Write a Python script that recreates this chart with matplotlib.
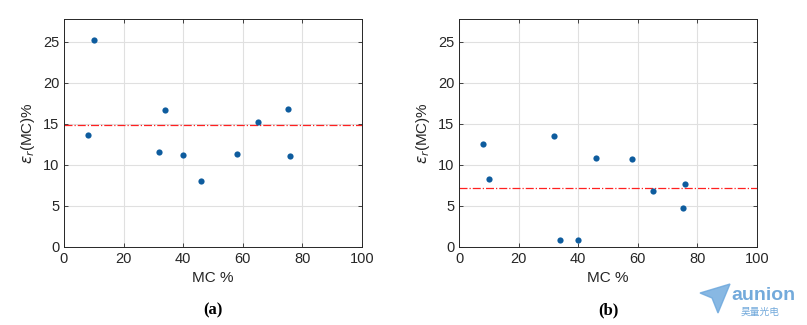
import matplotlib.pyplot as plt
from matplotlib.patches import Polygon

plt.rcParams['font.family'] = ['Liberation Sans', 'DejaVu Sans']

mc = [8, 10, 32, 34, 40, 46, 58, 65, 75, 76]
err_a = [13.6, 25.3, 11.6, 16.7, 11.2, 8.1, 11.4, 15.2, 16.8, 11.1]
err_b = [12.6, 8.3, 13.5, 0.9, 0.8, 10.8, 10.7, 6.8, 4.8, 7.7]
level_a = 14.85
level_b = 7.15
panels = [("(a)", err_a, level_a), ("(b)", err_b, level_b)]

fig = plt.figure(figsize=(8.07, 3.25), dpi=100)
W, H = 807, 325
boxes = [(64, 19, 298, 228), (459, 19, 298, 228)]

for (tag, err, level), (x0, y0, w, h) in zip(panels, boxes):
    ax = fig.add_axes([x0 / W, 1 - (y0 + h) / H, w / W, h / H])
    ax.scatter(mc, err, s=20, color='#0e5c9e', zorder=3, linewidths=0)
    ax.axhline(level, color='#ff2020', ls='-.', lw=0.9, zorder=2)
    ax.set_xlim(0, 100)
    ax.set_ylim(0, 27.8)
    ax.set_xticks(range(0, 101, 20))
    ax.set_yticks(range(0, 26, 5))
    ax.grid(True, color='#e0e0e0', lw=0.8)
    ax.set_axisbelow(True)
    ax.tick_params(direction='in', top=True, right=True, length=3,
                   labelsize=10.5, colors='#262626', width=0.6)
    for s in ax.spines.values():
        s.set_color('#262626')
        s.set_linewidth(0.7)
    ax.set_xlabel('MC %', fontsize=11, color='#262626', labelpad=4)
    ax.set_ylabel(r'$\epsilon_r$(MC)%', fontsize=11, color='#262626', labelpad=4)
    ax.text(0.5, -0.28, tag, transform=ax.transAxes, ha='center', va='center',
            fontsize=12, fontweight='bold', family='Liberation Serif')

# watermark logo
plane = Polygon([(700 / W, 1 - 293 / H), (730 / W, 1 - 284 / H),
                 (718 / W, 1 - 313 / H), (712 / W, 1 - 298 / H)],
                closed=True, transform=fig.transFigure, color='#6aa6dc', alpha=0.8)
fig.patches.append(plane)
fig.text(731 / W, 1 - 296 / H, 'aunion', fontsize=14, fontweight='bold',
         color='#5b9bd5', ha='left', va='center', alpha=0.85)
fig.text(741 / W, 1 - 312 / H, '昊量光电', fontsize=7, color='#5b9bd5',
         ha='left', va='center', alpha=0.85,
         family=['Noto Sans CJK SC', 'DejaVu Sans'])

fig.savefig('out.png', dpi=100)
